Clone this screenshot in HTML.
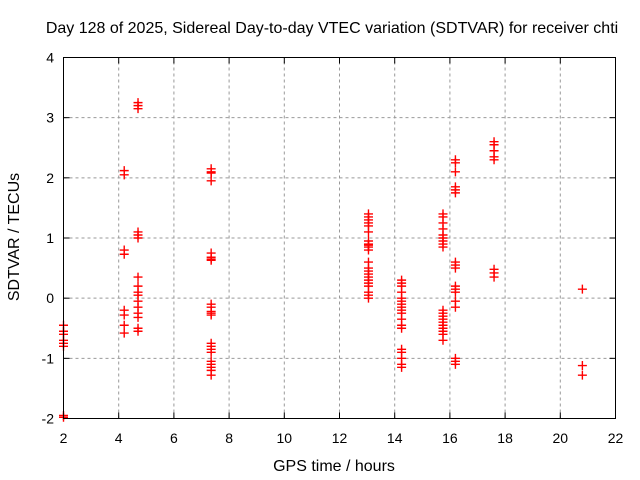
<!DOCTYPE html>
<html><head><meta charset="utf-8"><style>
body{margin:0;background:#fff;}
svg{display:block;font-family:"Liberation Sans",sans-serif;}
</style></head><body>
<svg id="chart" width="640" height="480">
<text x="332" y="33" font-size="16" text-anchor="middle">Day 128 of 2025, Sidereal Day-to-day VTEC variation (SDTVAR) for receiver chti</text>
<text x="334" y="471" font-size="16" text-anchor="middle">GPS time / hours</text>
<text transform="translate(19,237) rotate(-90)" font-size="16" text-anchor="middle">SDTVAR / TECUs</text>
<g id="grid"></g><g id="ticks"></g><g id="marks"></g>
<rect x="63.5" y="57.5" width="552" height="361" fill="none" stroke="#000"/>
</svg>
<script>
const xTicks=[2,4,6,8,10,12,14,16,18,20,22];
const yTicks=[-2,-1,0,1,2,3,4];
const clusterHours=[2.0,4.2,4.7,7.35,13.05,14.25,15.75,16.2,17.6,20.8];
const c0=[-0.45,-0.55,-0.6,-0.7,-0.75,-0.8,-1.95,-1.98];
const c1=[2.12,2.05,0.8,0.73,-0.2,-0.28,-0.45,-0.58];
const c2=[3.25,3.2,3.15,1.1,1.05,1.0,0.35,0.2,0.1,0.05,-0.05,-0.15,-0.25,-0.32,-0.5,-0.55];
const c3=[2.15,2.1,2.08,1.95,0.75,0.68,0.65,0.63,-0.1,-0.15,-0.22,-0.25,-0.28,-0.75,-0.8,-0.85,-0.9,-1.05,-1.1,-1.15,-1.2,-1.28];
const c4=[1.4,1.35,1.3,1.25,1.2,1.1,0.95,0.9,0.88,0.85,0.8,0.6,0.5,0.45,0.4,0.35,0.3,0.25,0.2,0.1,0.05,0.0];
const c5=[0.3,0.25,0.2,0.1,0.0,-0.05,-0.1,-0.15,-0.2,-0.25,-0.35,-0.45,-0.5,-0.85,-0.9,-1.0,-1.1,-1.15];
const c6=[1.4,1.35,1.25,1.15,1.05,1.0,0.95,0.9,0.85,-0.2,-0.25,-0.3,-0.35,-0.4,-0.45,-0.5,-0.55,-0.6,-0.7];
const c7=[2.3,2.25,2.1,1.85,1.8,1.75,0.6,0.55,0.5,0.2,0.15,0.1,-0.05,-0.15,-1.0,-1.05,-1.1];
const c8=[2.6,2.55,2.45,2.35,2.3,0.48,0.42,0.35];
const c9=[0.15,-1.12,-1.28];
const clusterValues=[c0,c1,c2,c3,c4,c5,c6,c7,c8,c9];
const NS='http://www.w3.org/2000/svg';
const X0=63.5,X1=615.5,Y0=418.5,Y1=57.5;
function sx(h){return X0+(h-2)/(22-2)*(X1-X0);}
function sy(v){return Y0-(v+2)/6*(Y0-Y1);}
function mk(tag,attrs,parent){const e=document.createElementNS(NS,tag);for(const k in attrs)e.setAttribute(k,attrs[k]);parent.appendChild(e);return e;}
const grid=document.getElementById('grid'),ticks=document.getElementById('ticks'),marks=document.getElementById('marks');
xTicks.forEach(t=>{const x=sx(t);
 if(t>2&&t<22){const g=mk('line',{x1:x,x2:x,y1:Y0,y2:Y1,stroke:'#999','stroke-dasharray':'3,3'},grid);
 
 }
 mk('line',{x1:x,x2:x,y1:Y0,y2:Y0-6,stroke:'#000'},ticks);
 mk('line',{x1:x,x2:x,y1:Y1,y2:Y1+6,stroke:'#000'},ticks);
 const l=mk('text',{x:x,y:443,'font-size':'14','text-anchor':'middle'},ticks);l.textContent=t;
 
 
});
yTicks.forEach(t=>{const y=sy(t);
 if(t>-2&&t<4){const g=mk('line',{x1:X0,x2:X1,y1:y,y2:y,stroke:'#999','stroke-dasharray':'3,3'},grid);
 
 }
 mk('line',{x1:X0,x2:X0+6,y1:y,y2:y,stroke:'#000'},ticks);
 mk('line',{x1:X1,x2:X1-6,y1:y,y2:y,stroke:'#000'},ticks);
 const l=mk('text',{x:54,y:y+5,'font-size':'14','text-anchor':'end'},ticks);l.textContent=t;
 
 
});
clusterHours.forEach((h,i)=>{clusterValues[i].forEach(v=>{
 const x=sx(h),y=sy(v);
 const p=mk('path',{d:`M${x-4.5},${y}H${x+4.5}M${x},${y-4.5}V${y+4.5}`,stroke:'#f00','stroke-width':'1.4',fill:'none'},marks);
 
 
});});
</script>
</body></html>
